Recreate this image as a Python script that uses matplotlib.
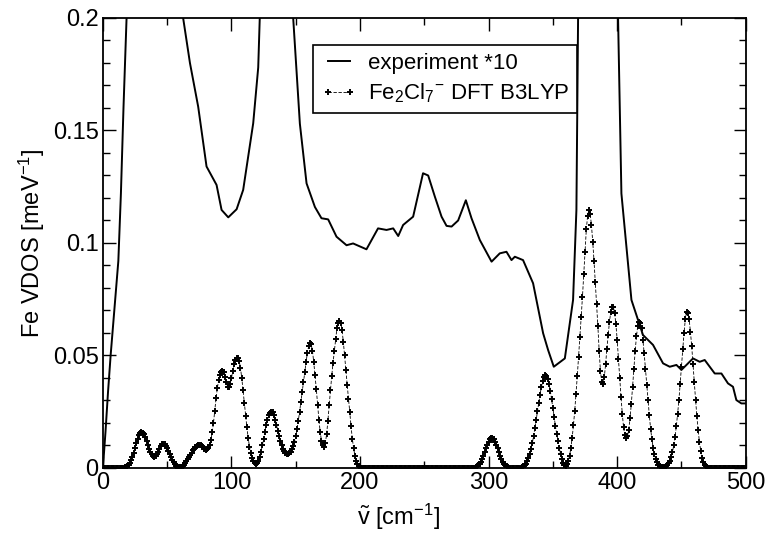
import numpy as np
import matplotlib
matplotlib.use("Agg")
import matplotlib.pyplot as plt
from matplotlib.ticker import MultipleLocator, FuncFormatter

plt.rcParams['font.family'] = ['Liberation Sans', 'DejaVu Sans']
plt.rcParams['mathtext.fontset'] = 'custom'
plt.rcParams['mathtext.rm'] = 'Liberation Sans'
plt.rcParams['mathtext.it'] = 'Liberation Sans:italic'

# experiment (*10); values above 0.2 are off-scale
exp_x = [0, 2, 4, 6, 8, 10, 12, 14, 16, 18.4, 22, 30, 45, 62.4, 67.7, 74.1, 80.6, 88.4,
         92.3, 97.5, 104, 109.1, 116.9, 120.8, 122, 128, 135, 142, 148, 153.2, 158.4,
         164.9, 170, 175.2, 181.7, 189.5, 194.6, 205, 214, 220.6, 225.8, 229.7, 233.5,
         241.3, 249, 253, 258.2, 263.4, 267.3, 271.2, 276.3, 282.3, 286.7, 293.2, 302.3,
         308.7, 313.9, 317.8, 320.4, 326.8, 334.6, 342.4, 346.3, 350.7, 359.3, 365.7,
         368.3, 369.6, 375, 385, 395, 400.7, 403.3, 411.1, 420.1, 427.9, 435.7, 440.9,
         446.1, 450, 459, 464.2, 468.1, 475.9, 481.1, 486.2, 490.1, 492.7, 496.6, 500]
exp_y = [0.0, 0.016, 0.034, 0.05, 0.064, 0.078, 0.092, 0.122, 0.16, 0.2, 0.28, 0.45, 0.5,
         0.2, 0.18, 0.1606, 0.134, 0.1258, 0.1147, 0.1114, 0.115, 0.1236, 0.1532, 0.178,
         0.2, 0.3, 0.34, 0.3, 0.2, 0.153, 0.1265, 0.116, 0.111, 0.1105, 0.1028, 0.099,
         0.0998, 0.0972, 0.1065, 0.1058, 0.1065, 0.1031, 0.108, 0.1117, 0.131, 0.130,
         0.1206, 0.1117, 0.1076, 0.1073, 0.110, 0.119, 0.111, 0.1013, 0.0917, 0.0954,
         0.0961, 0.0924, 0.0939, 0.0924, 0.0821, 0.0599, 0.0524, 0.045, 0.0487, 0.0747,
         0.1147, 0.2, 0.6, 1.0, 0.6, 0.2, 0.122, 0.0747, 0.0591, 0.0547, 0.0465, 0.045,
         0.0458, 0.0436, 0.0487, 0.0472, 0.048, 0.042, 0.042, 0.0376, 0.0361, 0.0302,
         0.0287, 0.0287]

# DFT B3LYP broadened spectrum, one value per cm^-1 from 0 to 500
dft_x = np.arange(0, 501)
dft_y = [
    0, 0, 0, 0, 0, 0, 0, 0, 0, 0,                                                        # 0
    0, 0, 0, 0, 0, 0.0001, 0.0002, 0.0004, 0.0006, 0.0010,                               # 10
    0.0015, 0.0024, 0.0035, 0.0050, 0.0068, 0.0088, 0.0110, 0.0129, 0.0145, 0.0156,      # 20
    0.0160, 0.0157, 0.0150, 0.0136, 0.0120, 0.0102, 0.0085, 0.0071, 0.0060, 0.0053,      # 30
    0.0050, 0.0053, 0.0060, 0.0072, 0.0085, 0.0096, 0.0105, 0.0107, 0.0105, 0.0098,      # 40
    0.0088, 0.0075, 0.0062, 0.0048, 0.0035, 0.0025, 0.0016, 0.0010, 0.0006, 0.0004,      # 50
    0.0004, 0.0005, 0.0008, 0.0013, 0.0020, 0.0029, 0.0038, 0.0048, 0.0058, 0.0068,      # 60
    0.0078, 0.0086, 0.0092, 0.0097, 0.0100, 0.0102, 0.0102, 0.0098, 0.0092, 0.0086,      # 70
    0.0082, 0.0083, 0.0090, 0.0104, 0.0125, 0.0158, 0.0200, 0.0255, 0.0310, 0.0355,      # 80
    0.0390, 0.0412, 0.0425, 0.0430, 0.0425, 0.0405, 0.0380, 0.0362, 0.0360, 0.0375,      # 90
    0.0400, 0.0432, 0.0460, 0.0480, 0.0488, 0.0487, 0.0475, 0.0445, 0.0400, 0.0347,      # 100
    0.0290, 0.0233, 0.0180, 0.0133, 0.0095, 0.0066, 0.0045, 0.0030, 0.0021, 0.0018,      # 110
    0.0022, 0.0033, 0.0050, 0.0073, 0.0100, 0.0130, 0.0160, 0.0190, 0.0215, 0.0235,      # 120
    0.0246, 0.0250, 0.0247, 0.0234, 0.0215, 0.0191, 0.0166, 0.0142, 0.0120, 0.0101,      # 130
    0.0086, 0.0074, 0.0066, 0.0062, 0.0062, 0.0066, 0.0073, 0.0083, 0.0097, 0.0116,      # 140
    0.0140, 0.0172, 0.0210, 0.0250, 0.0295, 0.0338, 0.0380, 0.0425, 0.0470, 0.0510,      # 150
    0.0540, 0.0556, 0.0550, 0.0520, 0.0470, 0.0412, 0.0350, 0.0280, 0.0215, 0.0160,      # 160
    0.0122, 0.0100, 0.0095, 0.0110, 0.0150, 0.0210, 0.0280, 0.0345, 0.0410, 0.0468,      # 170
    0.0520, 0.0575, 0.0620, 0.0645, 0.0655, 0.0645, 0.0612, 0.0562, 0.0500, 0.0435,      # 180
    0.0370, 0.0308, 0.0250, 0.0185, 0.0130, 0.0088, 0.0055, 0.0032, 0.0018, 0.0010,      # 190
    0.0005, 0.0002, 0.0001, 0, 0, 0, 0, 0, 0, 0,                                         # 200
    0, 0, 0, 0, 0, 0, 0, 0, 0, 0,                                                        # 210
    0, 0, 0, 0, 0, 0, 0, 0, 0, 0,                                                        # 220
    0, 0, 0, 0, 0, 0, 0, 0, 0, 0,                                                        # 230
    0, 0, 0, 0, 0, 0, 0, 0, 0, 0,                                                        # 240
    0, 0, 0, 0, 0, 0, 0, 0, 0, 0,                                                        # 250
    0, 0, 0, 0, 0, 0, 0, 0, 0, 0,                                                        # 260
    0, 0, 0, 0, 0, 0, 0, 0, 0, 0,                                                        # 270
    0, 0, 0, 0, 0, 0, 0, 0, 0.0001, 0.0002,                                              # 280
    0.0004, 0.0007, 0.0012, 0.0019, 0.0028, 0.0040, 0.0054, 0.0070, 0.0087, 0.0103,      # 290
    0.0117, 0.0127, 0.0132, 0.0132, 0.0127, 0.0117, 0.0103, 0.0087, 0.0070, 0.0054,      # 300
    0.0040, 0.0028, 0.0019, 0.0012, 0.0007, 0.0004, 0.0002, 0.0001, 0, 0,                # 310
    0, 0, 0, 0, 0.0001, 0.0002, 0.0004, 0.0007, 0.0012, 0.0019,                          # 320
    0.0029, 0.0043, 0.0061, 0.0084, 0.0111, 0.0142, 0.0177, 0.0214, 0.0252, 0.0290,      # 330
    0.0326, 0.0358, 0.0385, 0.0404, 0.0413, 0.0410, 0.0397, 0.0374, 0.0343, 0.0306,      # 340
    0.0266, 0.0225, 0.0186, 0.0150, 0.0118, 0.0088, 0.0062, 0.0040, 0.0022, 0.0012,      # 350
    0.0010, 0.0016, 0.0030, 0.0055, 0.0090, 0.0135, 0.0190, 0.0255, 0.0330, 0.0410,      # 360
    0.0495, 0.0580, 0.0670, 0.0760, 0.0860, 0.0960, 0.1060, 0.1120, 0.1147, 0.1130,      # 370
    0.1080, 0.1005, 0.0920, 0.0825, 0.0730, 0.0630, 0.0520, 0.0430, 0.0380, 0.0375,      # 380
    0.0405, 0.0460, 0.0530, 0.0590, 0.0650, 0.0692, 0.0715, 0.0717, 0.0690, 0.0640,      # 390
    0.0570, 0.0485, 0.0400, 0.0315, 0.0240, 0.0180, 0.0145, 0.0132, 0.0140, 0.0170,      # 400
    0.0220, 0.0285, 0.0360, 0.0440, 0.0520, 0.0585, 0.0630, 0.0650, 0.0645, 0.0620,      # 410
    0.0570, 0.0510, 0.0440, 0.0370, 0.0300, 0.0235, 0.0175, 0.0128, 0.0090, 0.0062,      # 420
    0.0040, 0.0025, 0.0015, 0.0009, 0.0006, 0.0004, 0.0004, 0.0005, 0.0008, 0.0013,      # 430
    0.0020, 0.0032, 0.0048, 0.0071, 0.0100, 0.0138, 0.0185, 0.0240, 0.0300, 0.0375,      # 440
    0.0450, 0.0528, 0.0600, 0.0660, 0.0695, 0.0690, 0.0660, 0.0605, 0.0540, 0.0460,      # 450
    0.0380, 0.0302, 0.0230, 0.0168, 0.0115, 0.0076, 0.0045, 0.0027, 0.0015, 0.0008,      # 460
    0.0004, 0.0002, 0.0001, 0, 0, 0, 0, 0, 0, 0,                                         # 470
    0, 0, 0, 0, 0, 0, 0, 0, 0, 0,                                                        # 480
    0, 0, 0, 0, 0, 0, 0, 0, 0, 0,                                                        # 490
    0,                                                                                   # 500
]

fig = plt.figure(figsize=(7.68, 5.34), dpi=100)
ax = fig.add_axes([0.134, 0.1236, 0.837, 0.8427])

ax.plot(exp_x, exp_y, color="black", lw=1.4, label="experiment *10")
ax.plot(dft_x, dft_y, color="black", lw=0.6, ls=(0, (4, 2)), marker="+",
        ms=5, mew=1.4, label=r"Fe$_2$Cl$_7{}^{-}$ DFT B3LYP")

ax.set_xlim(0, 500)
ax.set_ylim(0, 0.2)
ax.xaxis.set_major_locator(MultipleLocator(100))
ax.xaxis.set_minor_locator(MultipleLocator(50))
ax.yaxis.set_major_locator(MultipleLocator(0.05))
ax.yaxis.set_minor_locator(MultipleLocator(0.01))
ax.yaxis.set_major_formatter(FuncFormatter(lambda v, p: "0" if abs(v) < 1e-9 else "%g" % v))
ax.tick_params(which="both", direction="in", top=True, right=True, labelsize=17, width=1)
ax.tick_params(which="major", length=9, pad=3)
ax.tick_params(which="minor", length=5)
for s in ax.spines.values():
    s.set_linewidth(1.3)

ax.set_xlabel(r"$\tilde{\mathrm{v}}$ [cm$^{-1}$]", fontsize=17, labelpad=2)
ax.xaxis.set_label_coords(0.46, -0.075)
ax.set_ylabel(r"Fe VDOS [meV$^{-1}$]", fontsize=17, labelpad=4)

leg = ax.legend(loc="upper left", bbox_to_anchor=(0.327, 0.94), fontsize=16,
                frameon=True, fancybox=False, numpoints=2, handlelength=1.6,
                borderpad=0.35, labelspacing=0.35, handletextpad=0.5, borderaxespad=0)
leg.get_frame().set_edgecolor("black")
leg.get_frame().set_linewidth(1.2)
leg.get_frame().set_alpha(1)

fig.savefig("out.png", dpi=100)
